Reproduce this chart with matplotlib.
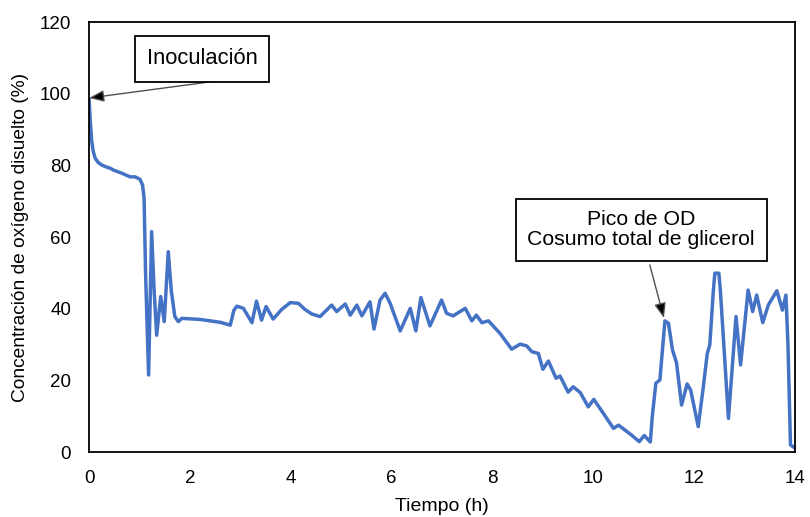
import matplotlib.pyplot as plt

# Time (h) and dissolved oxygen (%)
tiempo = [0.00, 0.02, 0.05, 0.08, 0.12, 0.18, 0.25, 0.35, 0.42, 0.48, 0.65, 0.81,
          0.91, 1.01, 1.06, 1.09, 1.12, 1.18, 1.24, 1.29, 1.34, 1.42, 1.49, 1.57,
          1.63, 1.70, 1.77, 1.84, 2.20, 2.60, 2.80,
          2.87, 2.93, 3.06, 3.23, 3.32, 3.42, 3.51, 3.65, 3.82, 3.99, 4.15, 4.28,
          4.42, 4.58, 4.71, 4.81, 4.91, 5.08, 5.18, 5.31, 5.41, 5.57, 5.65,
          5.77, 5.87, 5.97, 6.17, 6.37, 6.48, 6.58, 6.76, 6.99, 7.09, 7.22,
          7.46, 7.59, 7.68, 7.79, 7.92, 8.15, 8.38, 8.55, 8.68, 8.78, 8.91,
          9.00, 9.11, 9.26, 9.34, 9.50, 9.60, 9.74, 9.90, 10.01, 10.13,
          10.40, 10.50, 10.63, 10.76, 10.91, 11.01, 11.13, 11.17, 11.24, 11.32,
          11.38, 11.42, 11.49, 11.57, 11.65, 11.75, 11.86, 11.93, 12.08, 12.18,
          12.26, 12.31, 12.38, 12.41, 12.49, 12.52, 12.68, 12.83, 12.92, 13.07,
          13.16, 13.24, 13.36, 13.47, 13.64, 13.75, 13.82, 13.86, 13.91, 14.00]
oxigeno = [98.5, 93.0, 87.0, 84.0, 82.0, 80.8, 80.1, 79.5, 79.2, 78.7, 77.8, 76.8,
           76.8, 76.1, 74.5, 71.0, 50.0, 21.5, 61.5, 45.0, 32.6, 43.4, 36.4, 55.9,
           45.0, 37.8, 36.4, 37.3, 37.0, 36.2, 35.4,
           39.5, 40.7, 40.1, 36.1, 42.1, 36.8, 40.6, 37.1, 39.8, 41.7, 41.5, 39.8,
           38.5, 37.8, 39.6, 41.0, 39.2, 41.3, 38.2, 41.0, 38.0, 41.9, 34.3,
           42.4, 44.3, 41.5, 33.8, 40.1, 33.8, 43.1, 35.2, 42.4, 38.7, 38.0,
           40.1, 36.6, 38.2, 36.1, 36.6, 33.1, 28.7, 30.1, 29.6, 28.0, 27.5,
           23.1, 25.4, 20.6, 21.2, 16.7, 18.2, 16.6, 12.6, 14.7, 12.2,
           6.6, 7.5, 6.1, 4.7, 2.9, 4.6, 2.8, 10.0, 19.2, 20.1,
           30.0, 36.6, 35.9, 28.5, 24.9, 13.1, 19.0, 17.3, 7.1, 18.0,
           27.5, 29.9, 45.0, 49.9, 49.9, 45.0, 9.4, 37.8, 24.3, 45.2,
           39.2, 43.8, 36.1, 41.0, 45.0, 39.6, 43.8, 30.0, 2.0, 1.1]

xticks = [0, 2, 4, 6, 8, 10, 12, 14]
yticks = [0, 20, 40, 60, 80, 100, 120]

fig = plt.figure(figsize=(8.1, 5.17), dpi=100)
ax = fig.add_axes([0.110, 0.1257, 0.8715, 0.8317])

ax.plot(tiempo, oxigeno, color='#4472C4', linewidth=2.5,
        solid_joinstyle='round', solid_capstyle='round')

ax.set_xlim(0, 14)
ax.set_ylim(0, 120)
ax.set_xticks(xticks)
ax.set_yticks(yticks)
ax.tick_params(length=0, pad=13, labelsize=13.5)
for lbl in ax.get_xticklabels() + ax.get_yticklabels():
    lbl.set_family('Liberation Sans')
for sp in ax.spines.values():
    sp.set_linewidth(1.3)
    sp.set_color('black')

ax.set_xlabel('Tiempo (h)', fontsize=14.0, family='Liberation Sans', labelpad=8)
ax.set_ylabel('Concentración de oxígeno disuelto (%)', fontsize=13.8,
              family='Liberation Sans', labelpad=8)

box = dict(boxstyle='square,pad=0.55', facecolor='white', edgecolor='black', linewidth=1.3)
arrow = dict(arrowstyle='-|>,head_length=0.9,head_width=0.35', edgecolor='#505050',
             facecolor='black', linewidth=1.0, shrinkA=0, shrinkB=0)

ax.text(2.24, 109.7, 'Inoculación', fontsize=15.8, family='Liberation Sans',
        ha='center', va='center', bbox=box, zorder=4)
ax.annotate('', xy=(0.0, 98.8), xytext=(2.4, 103.3), arrowprops=arrow, zorder=3)

ax.text(10.95, 62, 'Pico de OD\nCosumo total de glicerol', fontsize=15.3,
        family='Liberation Sans', ha='center', va='center',
        linespacing=1.05, bbox=box, zorder=4)
ax.annotate('', xy=(11.40, 37.4), xytext=(11.12, 52.2), arrowprops=arrow, zorder=3)

fig.savefig('out.png', dpi=100)
